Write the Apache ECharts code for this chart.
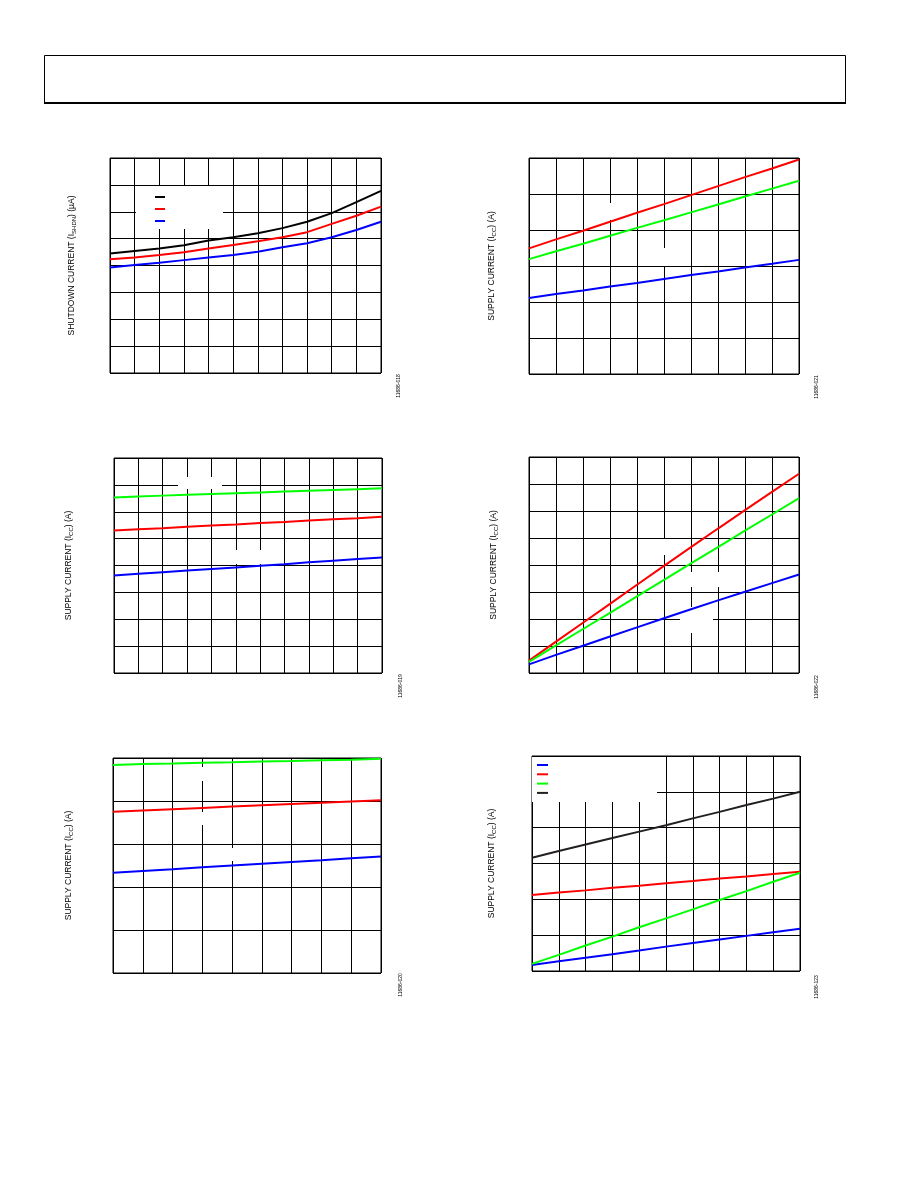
<!DOCTYPE html>
<html>
<head>
<meta charset="utf-8">
<script src="https://cdn.jsdelivr.net/npm/echarts@6/dist/echarts.min.js"></script>
<style>
  html, body { margin: 0; padding: 0; background: #fff; }
  #page { width: 918px; height: 1188px; }
</style>
</head>
<body>
<div id="page"></div>
<script>
// values read at each vertical gridline, left to right (tick labels are blank in the source)
var shdnBlack = [4.45, 4.54, 4.63, 4.75, 4.93, 5.05, 5.20, 5.39, 5.63, 5.95, 6.36, 6.78];
var shdnRed   = [4.23, 4.30, 4.39, 4.49, 4.63, 4.76, 4.90, 5.05, 5.24, 5.55, 5.85, 6.19];
var shdnBlue  = [3.93, 4.02, 4.10, 4.20, 4.30, 4.39, 4.51, 4.68, 4.83, 5.05, 5.32, 5.63];

var icc21Red   = [3.49, 3.74, 3.98, 4.23, 4.48, 4.72, 4.97, 5.22, 5.47, 5.71, 5.96];
var icc21Green = [3.19, 3.41, 3.62, 3.84, 4.06, 4.27, 4.49, 4.71, 4.93, 5.15, 5.37];
var icc21Blue  = [2.11, 2.22, 2.32, 2.43, 2.53, 2.64, 2.75, 2.85, 2.96, 3.06, 3.17];

var icc19Green = [6.53, 6.57, 6.60, 6.63, 6.66, 6.69, 6.72, 6.75, 6.78, 6.81, 6.84, 6.87];
var icc19Red   = [5.30, 5.35, 5.39, 5.44, 5.49, 5.53, 5.58, 5.62, 5.67, 5.72, 5.76, 5.81];
var icc19Blue  = [3.63, 3.69, 3.75, 3.81, 3.87, 3.93, 3.99, 4.05, 4.12, 4.18, 4.24, 4.30];

var icc22Red   = [0.46, 1.16, 1.86, 2.56, 3.27, 3.97, 4.66, 5.35, 6.03, 6.71, 7.38];
var icc22Green = [0.41, 1.02, 1.63, 2.23, 2.84, 3.45, 4.06, 4.66, 5.27, 5.87, 6.48];
var icc22Blue  = [0.32, 0.67, 1.01, 1.35, 1.69, 2.03, 2.36, 2.69, 3.01, 3.33, 3.65];

var icc20Green = [4.84, 4.86, 4.87, 4.89, 4.90, 4.92, 4.93, 4.95, 4.96, 4.98];
var icc20Red   = [3.75, 3.78, 3.81, 3.84, 3.87, 3.90, 3.93, 3.96, 3.99, 4.02];
var icc20Blue  = [2.33, 2.37, 2.41, 2.46, 2.50, 2.54, 2.58, 2.62, 2.67, 2.71];

var icc23Black = [3.16, 3.35, 3.53, 3.71, 3.89, 4.07, 4.26, 4.44, 4.63, 4.81, 5.00];
var icc23Red   = [2.12, 2.19, 2.25, 2.32, 2.38, 2.45, 2.51, 2.58, 2.64, 2.71, 2.77];
var icc23Green = [0.20, 0.45, 0.71, 0.96, 1.22, 1.47, 1.72, 1.98, 2.23, 2.49, 2.74];
var icc23Blue  = [0.17, 0.27, 0.37, 0.47, 0.57, 0.68, 0.78, 0.88, 0.98, 1.08, 1.18];

var figIds = ['11686-018', '11686-021', '11686-019', '11686-022', '11686-020', '11686-123'];

var BLACK = '#000000', RED = '#ff0000', GREEN = '#00ff00', BLUE = '#0000ff', DARK = '#231f20';

// panel layout: grid box, column/row counts, y title
var panels = [
  { left: 110, top: 158, width: 271, height: 215, cols: 11, rows: 8, gap: 33, title: 'SHUTDOWN CURRENT (I{sub|SHDN}) (µA)', id: [399, 386] },
  { left: 529, top: 158, width: 270, height: 216, cols: 10, rows: 6, gap: 32, title: 'SUPPLY CURRENT (I{sub|CC}) (A)', id: [817, 387] },
  { left: 114, top: 458, width: 268, height: 215, cols: 11, rows: 8, gap: 40, title: 'SUPPLY CURRENT (I{sub|CC}) (A)', id: [401, 686] },
  { left: 529, top: 457, width: 270, height: 216, cols: 10, rows: 8, gap: 30, title: 'SUPPLY CURRENT (I{sub|CC}) (A)', id: [817, 687] },
  { left: 113, top: 758, width: 268, height: 215, cols: 9,  rows: 5, gap: 39, title: 'SUPPLY CURRENT (I{sub|CC}) (A)', id: [401, 985] },
  { left: 532, top: 756, width: 268, height: 215, cols: 10, rows: 6, gap: 35, title: 'SUPPLY CURRENT (I{sub|CC}) (A)', id: [817, 987] }
];

var lines = [
  [['s1 black', shdnBlack, BLACK], ['s1 red', shdnRed, RED], ['s1 blue', shdnBlue, BLUE]],
  [['s2 red', icc21Red, RED], ['s2 green', icc21Green, GREEN], ['s2 blue', icc21Blue, BLUE]],
  [['s3 green', icc19Green, GREEN], ['s3 red', icc19Red, RED], ['s3 blue', icc19Blue, BLUE]],
  [['s4 red', icc22Red, RED], ['s4 green', icc22Green, GREEN], ['s4 blue', icc22Blue, BLUE]],
  [['s5 green', icc20Green, GREEN], ['s5 red', icc20Red, RED], ['s5 blue', icc20Blue, BLUE]],
  [['s6 blue', icc23Blue, BLUE], ['s6 red', icc23Red, RED], ['s6 green', icc23Green, GREEN], ['s6 black', icc23Black, DARK]]
];

var font = 'Liberation Sans, Arial, sans-serif';
var grids = [], xAxes = [], yAxes = [], series = [];

panels.forEach(function (p, i) {
  grids.push({ left: p.left, top: p.top, width: p.width, height: p.height,
    show: true, borderColor: '#000', borderWidth: 1, backgroundColor: 'transparent' });
  xAxes.push({ gridIndex: i, type: 'value', min: 0, max: p.cols, interval: 1,
    axisLine: { show: false }, axisTick: { show: false }, axisLabel: { show: false },
    splitLine: { show: true, lineStyle: { color: '#000', width: 1 } } });
  yAxes.push({ gridIndex: i, type: 'value', min: 0, max: p.rows, interval: 1,
    axisLine: { show: false }, axisTick: { show: false }, axisLabel: { show: false },
    splitLine: { show: true, lineStyle: { color: '#000', width: 1 } },
    name: p.title, nameLocation: 'middle', nameRotate: 90, nameGap: p.gap,
    nameTextStyle: { fontFamily: font, fontSize: 8.5, color: '#000',
      rich: { sub: { fontFamily: font, fontSize: 6, color: '#000', padding: [5, 0, 0, 0] } } } });
  lines[i].forEach(function (s) {
    series.push({
      name: s[0], type: 'line', xAxisIndex: i, yAxisIndex: i,
      data: s[1].map(function (v, k) { return [k, v]; }),
      showSymbol: false, smooth: false, animation: false,
      lineStyle: { color: s[2], width: 2 }, itemStyle: { color: s[2] }, z: 3
    });
  });
});

// legends: labels are blank in the source, only the white key boxes with colour swatches remain
var legends = [
  { left: 136, top: 186, orient: 'vertical', backgroundColor: '#fff', padding: [10, 53, 7, 19],
    itemWidth: 10, itemHeight: 2, itemGap: 10, icon: 'rect', formatter: function () { return ''; },
    textStyle: { fontSize: 2, lineHeight: 2 }, selectedMode: false,
    data: ['s1 black', 's1 red', 's1 blue'] },
  { left: 532, top: 757, orient: 'vertical', backgroundColor: '#fff', padding: [7, 104, 8, 5],
    itemWidth: 11, itemHeight: 2, itemGap: 7.3, icon: 'rect', formatter: function () { return ''; },
    textStyle: { fontSize: 2, lineHeight: 2 }, selectedMode: false,
    data: ['s6 blue', 's6 red', 's6 green', 's6 black'] }
];

// white patches where annotation text used to sit over the grid
var patches = [
  [587, 203, 48, 17], [640, 248, 26, 18],
  [178, 477, 44, 12], [227, 550, 40, 14],
  [653, 539, 27, 16], [687, 572, 36, 15], [680, 607, 33, 26],
  [187, 767, 33, 14], [187, 812, 33, 13], [220, 848, 27, 13]
];

var graphics = [
  { type: 'rect', shape: { x: 44.5, y: 55.5, width: 801, height: 47 }, z: 10,
    style: { fill: 'none', stroke: '#000', lineWidth: 1 } },
  { type: 'line', shape: { x1: 44, y1: 103, x2: 846, y2: 103 }, z: 10,
    style: { stroke: '#000', lineWidth: 2 } }
];
patches.forEach(function (r) {
  graphics.push({ type: 'rect', shape: { x: r[0], y: r[1], width: r[2], height: r[3] }, z: 1,
    style: { fill: '#fff' } });
});
panels.forEach(function (p, i) {
  graphics.push({ type: 'text', x: p.id[0], y: p.id[1], rotation: Math.PI / 2, z: 10,
    style: { text: figIds[i], fontFamily: font, fontSize: 5, fill: '#000',
      align: 'center', verticalAlign: 'middle' } });
});

var chart = echarts.init(document.getElementById('page'), null, { renderer: 'canvas' });
chart.setOption({
  animation: false,
  backgroundColor: '#fff',
  grid: grids,
  xAxis: xAxes,
  yAxis: yAxes,
  legend: legends,
  graphic: graphics,
  series: series
});
</script>
</body>
</html>
